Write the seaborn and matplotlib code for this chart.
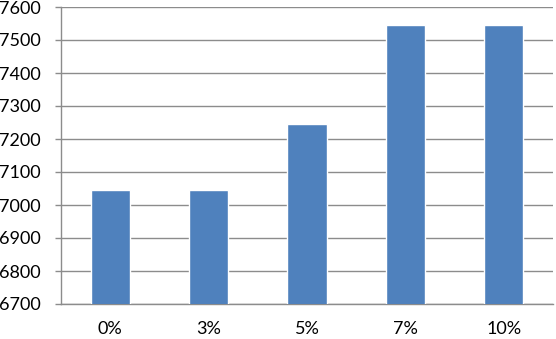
import matplotlib
matplotlib.use("Agg")
import matplotlib.pyplot as plt
import seaborn as sns
import pandas as pd
import numpy as np

categories = ["0%", "3%", "5%", "7%", "10%"]
values = [7045, 7045, 7245, 7545, 7545]

sns.set_style("white")
plt.rcParams['font.family'] = ['Lato', 'DejaVu Sans']

df = pd.DataFrame({"cat": categories, "val": values})

fig = plt.figure(figsize=(5.56, 3.39), dpi=100)
ax = fig.add_axes([61/556, 1-304/339, (553-61)/556, (304-7)/339])

sns.barplot(data=df, x="cat", y="val", order=categories, color="#4F81BD",
            saturation=1, width=0.4, ax=ax, zorder=3)

ax.set_ylim(6700, 7600)
ax.set_yticks(np.arange(6700, 7601, 100))
ax.set_xlim(-0.5, len(categories) - 0.5)
ax.set_xlabel("")
ax.set_ylabel("")

ax.yaxis.grid(True, color="#8c8c8c", linewidth=1.0, zorder=0)
ax.set_axisbelow(True)

for s in ["top", "right"]:
    ax.spines[s].set_visible(False)
for s in ["left", "bottom"]:
    ax.spines[s].set_color("#8c8c8c")
    ax.spines[s].set_linewidth(1.0)

ax.set_xticks(np.arange(-0.5, len(categories), 1.0), minor=True)
ax.tick_params(axis="x", which="major", length=0, pad=12, labelsize=13, colors="black")
ax.tick_params(axis="x", which="minor", length=4.5, width=1, color="#8c8c8c", direction="out")
ax.tick_params(axis="y", which="major", length=4.5, width=1, color="#8c8c8c", pad=10, labelsize=13, labelcolor="black", direction="out")
ax.tick_params(left=True, bottom=True)

fig.savefig("out.png", dpi=100)
